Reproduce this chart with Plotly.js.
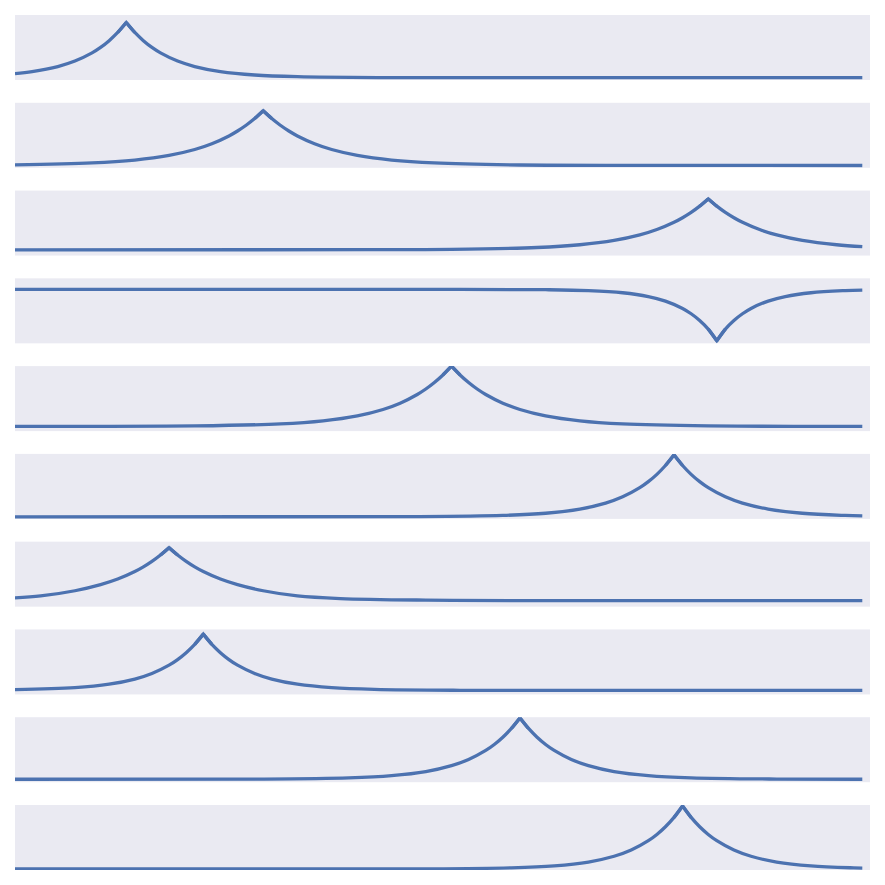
<!DOCTYPE html>
<html>
<head>
<meta charset="utf-8">
<script src="https://cdn.plot.ly/plotly-3.0.1.min.js"></script>
<style>
	html, body { margin: 0; padding: 0; background: #fff; }
</style>
</head>
<body>
<div id="graph-0" style="width:885px;height:885px;"></div>
<script>
/* global Plotly */

// values, one pair of arrays per strip (top to bottom)
const x1 = [0, 2, 5, 7, 9, 10, 11, 12, 13, 14, 15, 16, 17, 19, 21, 24, 28, 33, 43, 99];
const y1 = [0.098, 0.129, 0.207, 0.291, 0.417, 0.501, 0.605, 0.731, 0.885, 0.731, 0.605, 0.501, 0.417, 0.291, 0.207, 0.129, 0.077, 0.051, 0.037, 0.035];

const x2 = [0, 9, 14, 18, 21, 23, 25, 26, 27, 28, 29, 30, 31, 32, 33, 35, 37, 40, 44, 49, 59, 69, 99];
const y2 = [0.045, 0.074, 0.119, 0.190, 0.281, 0.370, 0.490, 0.566, 0.654, 0.757, 0.877, 0.757, 0.654, 0.566, 0.490, 0.370, 0.281, 0.190, 0.119, 0.074, 0.043, 0.037, 0.035];

const x3 = [0, 41, 51, 61, 66, 70, 73, 75, 77, 78, 79, 80, 81, 82, 83, 84, 85, 87, 89, 92, 96, 99];
const y3 = [0.088, 0.090, 0.096, 0.124, 0.166, 0.232, 0.317, 0.400, 0.512, 0.582, 0.664, 0.760, 0.872, 0.760, 0.664, 0.582, 0.512, 0.400, 0.317, 0.232, 0.166, 0.137];

const x4 = [0, 52, 62, 67, 71, 74, 76, 78, 79, 80, 81, 82, 83, 84, 85, 86, 88, 90, 93, 97, 99];
const y4 = [0.831, 0.830, 0.825, 0.811, 0.778, 0.720, 0.650, 0.537, 0.455, 0.352, 0.219, 0.040, 0.219, 0.352, 0.455, 0.537, 0.650, 0.720, 0.778, 0.811, 0.819];

const x5 = [0, 11, 21, 31, 36, 40, 43, 45, 47, 48, 49, 50, 51, 52, 53, 54, 55, 57, 59, 62, 66, 71, 81, 91, 99];
const y5 = [0.072, 0.074, 0.080, 0.111, 0.158, 0.234, 0.333, 0.430, 0.564, 0.648, 0.748, 0.864, 1.0, 0.864, 0.748, 0.648, 0.564, 0.430, 0.333, 0.234, 0.158, 0.111, 0.080, 0.074, 0.072];

const x6 = [0, 47, 57, 62, 66, 69, 71, 73, 74, 75, 76, 77, 78, 79, 80, 81, 83, 85, 88, 92, 97, 99];
const y6 = [0.031, 0.034, 0.053, 0.087, 0.151, 0.242, 0.339, 0.480, 0.573, 0.685, 0.821, 0.985, 0.821, 0.685, 0.573, 0.480, 0.339, 0.242, 0.151, 0.087, 0.053, 0.046];

const x7 = [0, 3, 7, 10, 12, 14, 15, 16, 17, 18, 19, 20, 21, 22, 24, 26, 29, 33, 38, 48, 58, 99];
const y7 = [0.135, 0.165, 0.245, 0.339, 0.425, 0.541, 0.613, 0.697, 0.795, 0.908, 0.795, 0.697, 0.613, 0.541, 0.425, 0.339, 0.245, 0.165, 0.125, 0.101, 0.094, 0.092];

const x8 = [0, 7, 11, 14, 16, 18, 19, 20, 21, 22, 23, 24, 25, 26, 28, 30, 33, 37, 42, 52, 99];
const y8 = [0.073, 0.105, 0.158, 0.237, 0.323, 0.451, 0.537, 0.643, 0.771, 0.928, 0.771, 0.643, 0.537, 0.451, 0.323, 0.237, 0.158, 0.105, 0.078, 0.064, 0.062];

const x9 = [0, 29, 39, 44, 48, 51, 53, 55, 56, 57, 58, 59, 60, 61, 62, 63, 65, 67, 70, 74, 79, 89, 99];
const y9 = [0.046, 0.049, 0.068, 0.102, 0.164, 0.255, 0.350, 0.489, 0.581, 0.693, 0.827, 0.989, 0.827, 0.693, 0.581, 0.489, 0.350, 0.255, 0.164, 0.102, 0.068, 0.049, 0.046];

const x10 = [0, 48, 58, 63, 67, 70, 72, 74, 75, 76, 77, 78, 79, 80, 81, 82, 84, 86, 89, 93, 98, 99];
const y10 = [0.015, 0.017, 0.033, 0.063, 0.122, 0.211, 0.307, 0.451, 0.547, 0.665, 0.809, 0.985, 0.809, 0.665, 0.547, 0.451, 0.307, 0.211, 0.122, 0.063, 0.033, 0.030];

const seriesX = [x1, x2, x3, x4, x5, x6, x7, x8, x9, x10];
const seriesY = [y1, y2, y3, y4, y5, y6, y7, y8, y9, y10];

const LINE_COLOR = "#4c72b0";
const LINE_WIDTH = 3.3;
const PANEL_BG = "#eaeaf2";
const N_ROWS = seriesX.length;
const ROW_H = 65 / 855; // strip height as a fraction of the plot area
const ROW_STEP = (1 - ROW_H) / (N_ROWS - 1);

const graphDiv = document.getElementById("graph-0");

// index of the cusp: the point furthest from the left end value
function cuspIndex(y) {
	let k = 0;
	for (let j = 1; j < y.length; ++j) {
		if (Math.abs(y[j] - y[0]) > Math.abs(y[k] - y[0])) {
			k = j;
		}
	}
	return k;
}

const traces = [];
const layout = {
	width: 885,
	height: 885,
	margin: { l: 15, r: 15, t: 15, b: 15 },
	paper_bgcolor: "#ffffff",
	plot_bgcolor: PANEL_BG,
	showlegend: false,
};

for (let i = 0; i < N_ROWS; ++i) {
	const n = i === 0 ? "" : String(i + 1);
	const top = 1 - i * ROW_STEP;
	const x = seriesX[i];
	const y = seriesY[i];
	const k = cuspIndex(y);

	const common = {
		type: "scatter",
		mode: "lines",
		xaxis: "x" + n,
		yaxis: "y" + n,
		hoverinfo: "skip",
	};

	// smooth flanks either side of the cusp, so the tip stays sharp
	traces.push({
		...common,
		x: x.slice(0, k + 1),
		y: y.slice(0, k + 1),
		line: { color: LINE_COLOR, width: LINE_WIDTH, shape: "spline", smoothing: 1 },
	});
	traces.push({
		...common,
		x: x.slice(k),
		y: y.slice(k),
		line: { color: LINE_COLOR, width: LINE_WIDTH, shape: "spline", smoothing: 1 },
	});
	traces.push({
		...common,
		x: x.slice(k - 1, k + 2),
		y: y.slice(k - 1, k + 2),
		line: { color: LINE_COLOR, width: LINE_WIDTH },
	});

	layout["xaxis" + n] = {
		domain: [0, 1],
		range: [0, 99.9],
		anchor: "y" + n,
		showgrid: false,
		zeroline: false,
		showticklabels: false,
		ticks: "",
		showline: false,
		fixedrange: true,
	};
	layout["yaxis" + n] = {
		domain: [top - ROW_H, top],
		range: [0, 1],
		anchor: "x" + n,
		showgrid: false,
		zeroline: false,
		showticklabels: false,
		ticks: "",
		showline: false,
		fixedrange: true,
	};
}

const config = { displayModeBar: false, staticPlot: true };

Plotly.newPlot(graphDiv, traces, layout, config);
</script>
</body>
</html>
